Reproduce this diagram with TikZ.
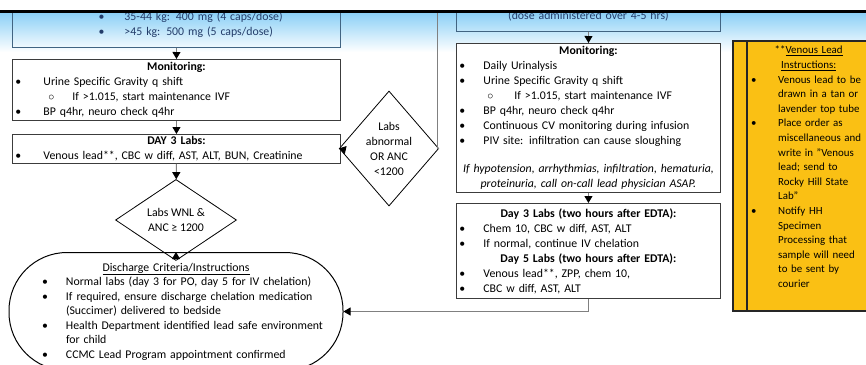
\documentclass[tikz,border=0pt]{standalone}
\usepackage{fontspec}
\setmainfont{Carlito}
\usetikzlibrary{shapes.geometric,arrows.meta,positioning}

\definecolor{bandblue}{RGB}{140,208,246}
\definecolor{doseline}{RGB}{65,100,130}
\definecolor{dosetext}{RGB}{35,60,105}
\definecolor{notegold}{RGB}{250,192,20}
\definecolor{connline}{RGB}{128,128,128}
\definecolor{boxline}{RGB}{60,60,60}

\newcommand{\bul}[2][26pt]{\makebox[#1][l]{\textbullet}#2}
\newcommand{\subitm}[3]{\hspace*{#1}\makebox[#2][l]{$\circ$}#3}

\begin{document}
\begin{tikzpicture}[x=1pt,y=-1pt,
dosebox/.style={
  draw=doseline,
  line width=1pt,
  anchor=north west,
  inner sep=0pt,
  text=dosetext,
  font=\fontsize{11.8}{15}\selectfont
},
labbox/.style={
  draw=boxline,
  line width=0.9pt,
  fill=white,
  anchor=north west,
  inner xsep=3pt,
  inner ysep=0pt,
  align=left,
  font=\fontsize{11.8}{15}\selectfont
},
decision/.style={
  draw,
  diamond,
  line width=0.8pt,
  fill=white,
  inner sep=0pt,
  align=center,
  font=\fontsize{11.8}{15}\selectfont
},
conn/.style={
  draw=connline,
  line width=0.9pt,
  -{Triangle[length=7pt,width=8pt,color=black]}
}
]
\useasboundingbox (0,0) rectangle (866,364);
\clip (0,0) rectangle (866,364);
\shade[top color=bandblue,bottom color=white] (0,13) rectangle (866,52);

\node[dosebox,text width=328pt,minimum height=45pt,align=left] at (12,2) (dosel)
  {\hspace*{86pt}\bul{35-44 kg: 400 mg (4 caps/dose)}\\
   \hspace*{86pt}\bul{>45 kg: 500 mg (5 caps/dose)}};
\node[labbox,text width=322pt,minimum height=61pt] at (12,59) (monl)
  {{\centering\bfseries Monitoring:\par}
   \bul[28pt]{Urine Specific Gravity q shift}\\
   \subitm{33pt}{24pt}{If >1.015, start maintenance IVF}\\
   \bul[28pt]{BP q4hr, neuro check q4hr}};
\node[labbox,text width=322pt,minimum height=29pt] at (12,134) (day3l)
  {{\centering\bfseries DAY 3 Labs:\par}
   \bul[28pt]{Venous lead**, CBC w diff, AST, ALT, BUN, Creatinine}};
\node[decision,minimum width=70pt,minimum height=115pt] at (389,148.5) (abn)
  {Labs\\abnormal\\OR ANC\\<1200};
\node[decision,minimum width=121pt,minimum height=40pt] at (176,220) (wnl)
  {Labs WNL \&\\ANC ≥ 1200};
\node[draw,line width=1pt,rounded corners=58pt,minimum width=334pt,minimum height=118pt,
  anchor=north,text width=304pt,align=left,font=\fontsize{11.8}{14.5}\selectfont] at (176,252) (dis)
  {{\centering\underline{Discharge Criteria/Instructions}\par}
   \hspace*{18pt}\bul[24pt]{Normal labs (day 3 for PO, day 5 for IV chelation)}\\
   \hspace*{18pt}\bul[24pt]{If required, ensure discharge chelation medication}\\
   \hspace*{42pt}(Succimer) delivered to bedside\\
   \hspace*{18pt}\bul[24pt]{Health Department identified lead safe environment}\\
   \hspace*{42pt}for child\\
   \hspace*{18pt}\bul[24pt]{CCMC Lead Program appointment confirmed}};

\node[dosebox,text width=264pt,minimum height=31pt,align=center] at (456,0) (doser)
  {(dose administered over 4-5 hrs)};
\node[labbox,text width=258pt,minimum height=149pt] at (456,43) (monr)
  {{\centering\bfseries Monitoring:\par}
   \bul[24pt]{Daily Urinalysis}\\
   \bul[24pt]{Urine Specific Gravity q shift}\\
   \subitm{28pt}{27pt}{If >1.015, start maintenance IVF}\\
   \bul[24pt]{BP q4hr, neuro check q4hr}\\
   \bul[24pt]{Continuous CV monitoring during infusion}\\
   \bul[24pt]{PIV site: infiltration can cause sloughing}\par
   \vspace{13pt}
   {\centering\itshape If hypotension, arrhythmias, infiltration, hematuria,\\
    proteinuria, call on-call lead physician ASAP.\par}};
\node[labbox,text width=258pt,minimum height=95pt] at (456,203) (labsr)
  {{\centering\bfseries Day 3 Labs (two hours after EDTA):\par}
   \bul[24pt]{Chem 10, CBC w diff, AST, ALT}\\
   \bul[24pt]{If normal, continue IV chelation}\\
   \hspace*{41pt}{\bfseries Day 5 Labs (two hours after EDTA):}\\
   \bul[24pt]{Venous lead**, ZPP, chem 10,}\\
   \bul[24pt]{CBC w diff, AST, ALT}};

\draw[line width=1.2pt,draw=black!85,fill=notegold] (733,41) rectangle (890,311);
\draw[line width=1.2pt,draw=black!85] (747,41) -- (747,311);
\node[anchor=north west,text width=140pt,inner xsep=4pt,inner ysep=5pt,align=left,
  font=\fontsize{10.9}{14.6}\selectfont] at (747,41) (note)
  {\makebox[115pt][c]{**\underline{Venous Lead}}\\
   \makebox[115pt][c]{\underline{Instructions:}}\\
   \bul[27pt]{Venous lead to be}\\
   \hspace*{27pt}drawn in a tan or\\
   \hspace*{27pt}lavender top tube\\
   \bul[27pt]{Place order as}\\
   \hspace*{27pt}miscellaneous and\\
   \hspace*{27pt}write in \symbol{34}Venous\\
   \hspace*{27pt}lead; send to\\
   \hspace*{27pt}Rocky Hill State\\
   \hspace*{27pt}Lab\symbol{34}\\
   \bul[27pt]{Notify HH}\\
   \hspace*{27pt}Specimen\\
   \hspace*{27pt}Processing that\\
   \hspace*{27pt}sample will need\\
   \hspace*{27pt}to be sent by\\
   \hspace*{27pt}courier};

\coordinate (abntop) at (437,13);
\draw[conn] (dosel) -- (monl);
\draw[conn] (monl) -- (day3l);
\draw[conn] (day3l.east) -- (abn.west);
\draw[conn] (day3l) -- (wnl);
\draw[conn] (wnl) -- (dis);
\draw[draw=connline,line width=0.9pt] (abn.east) -| (abntop);
\draw[conn] (doser) -- (monr);
\draw[conn] (monr) -- (labsr);
\draw[conn] (labsr.south) |- (dis.east);

\fill[white] (0,0) rectangle (866,9.5);
\fill[black] (0,9.5) rectangle (866,13);
\end{tikzpicture}
\end{document}
